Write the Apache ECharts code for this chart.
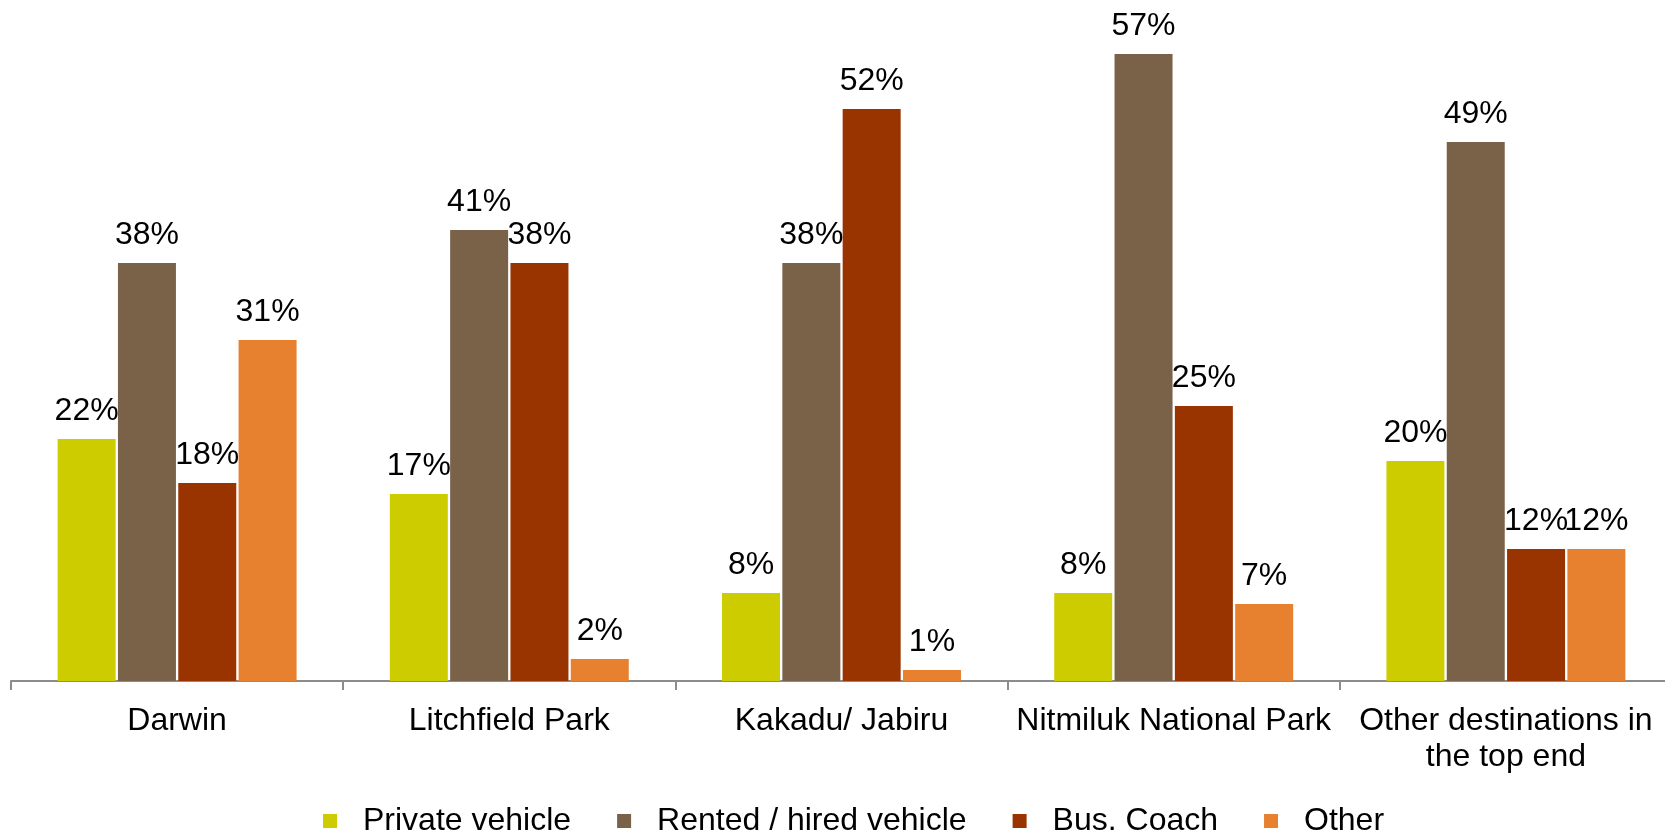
<!DOCTYPE html>
<html>
<head>
<meta charset="utf-8">
<script src="https://cdn.jsdelivr.net/npm/echarts@6/dist/echarts.min.js"></script>
<style>html,body{margin:0;padding:0;background:#fff}#c{width:1665px;height:834px}</style>
</head>
<body>
<div id="c"></div>
<script>
const categories = ["Darwin", "Litchfield Park", "Kakadu/ Jabiru", "Nitmiluk National Park", "Other destinations in\nthe top end"];
const seriesNames = ["Private vehicle", "Rented / hired vehicle", "Bus. Coach", "Other"];
const privateVehicle = [22, 17, 8, 8, 20];
const rentedVehicle = [38, 41, 38, 57, 49];
const busCoach = [18, 38, 52, 25, 12];
const other = [31, 2, 1, 7, 12];
const colors = ["#CDCC00", "#7A6249", "#993300", "#E8812F"];

const font = "'Liberation Sans', Arial, sans-serif";
const values = [privateVehicle, rentedVehicle, busCoach, other];

const chart = echarts.init(document.getElementById('c'), null, {renderer: 'canvas'});
chart.setOption({
  animation: false,
  backgroundColor: '#ffffff',
  textStyle: {fontFamily: font},
  grid: {left: 11, right: -7, top: 21, bottom: 153, containLabel: false, outerBoundsMode: 'none'},
  legend: {
    left: 318, top: 800,
    itemWidth: 14, itemHeight: 14, itemGap: 46,
    icon: 'rect',
    textStyle: {fontSize: 32, color: '#000', fontFamily: font, padding: [0, 0, 0, 21]},
    data: seriesNames
  },
  xAxis: {
    type: 'category',
    data: categories,
    axisLine: {lineStyle: {color: '#8c8c8c', width: 2}},
    axisTick: {show: true, length: 9, lineStyle: {color: '#8c8c8c', width: 2}},
    axisLabel: {interval: 0, margin: 22, fontSize: 32, color: '#000', fontFamily: font, lineHeight: 36}
  },
  yAxis: {
    type: 'value', min: 0, max: 60, show: false,
    splitLine: {show: false}
  },
  series: values.map((v, i) => ({
    name: seriesNames[i],
    type: 'bar',
    data: v,
    barWidth: 58,
    barGap: '4%',
    itemStyle: {color: colors[i]},
    label: {
      show: true, position: 'top', distance: 12,
      formatter: '{c}%', fontSize: 32, color: '#000', fontFamily: font
    }
  }))
});
</script>
</body>
</html>
